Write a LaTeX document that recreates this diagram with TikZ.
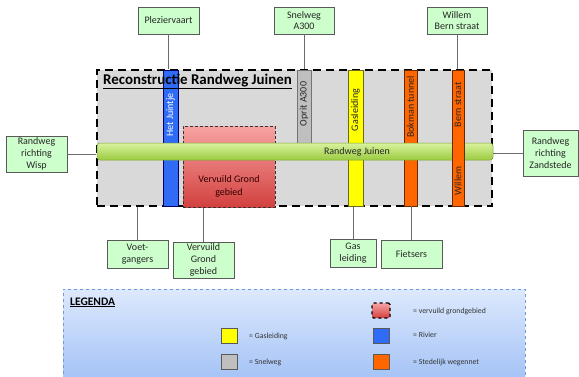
\documentclass[tikz,border=0pt]{standalone}
\usepackage{fontspec}
\setmainfont{Carlito}
\definecolor{nodefill}{HTML}{CCFFCC}
\definecolor{nodeborder}{HTML}{595959}
\definecolor{boxgrey}{HTML}{D9D9D9}
\definecolor{riverblue}{HTML}{2F6BF5}
\definecolor{roadorange}{HTML}{FF6600}
\definecolor{gasyellow}{HTML}{FFFF00}
\definecolor{hwgrey}{HTML}{BFBFBF}
\definecolor{redtop}{HTML}{F7A3A3}
\definecolor{redbot}{HTML}{D2413F}
\definecolor{greentop}{HTML}{D9F39E}
\definecolor{greenbot}{HTML}{9BCB3F}
\definecolor{legtop}{HTML}{DDE9FD}
\definecolor{legbot}{HTML}{A3C2F6}
\definecolor{legborder}{HTML}{6F9AD6}
\definecolor{conngrey}{HTML}{6B6B6B}
\begin{document}
\begin{tikzpicture}[x=1pt,y=-1pt,
  lbl/.style={draw=nodeborder, fill=nodefill, line width=0.9pt, align=center,
    font=\fontsize{10}{11.8}\selectfont, inner sep=0.5pt, text=black!85},
  barbox/.style={draw=#1, line width=0.7pt, inner sep=0pt},
  bartxt/.style={rotate=90, font=\fontsize{10}{11}\selectfont, inner sep=0pt, text=black!85},
  conn/.style={draw=conngrey, line width=0.8pt},
  sw/.style={draw=nodeborder, line width=0.8pt, minimum width=16pt, minimum height=15pt, inner sep=0pt},
  legtxt/.style={anchor=west, font=\fontsize{7.8}{9}\selectfont, text=black!80, inner sep=0pt}
]
\useasboundingbox (0,0) rectangle (579,376);
\clip (0,0) rectangle (579,376);

% legend
\node[draw=legborder, dashed, line width=0.8pt, top color=legtop, bottom color=legbot,
  minimum width=462pt, minimum height=92pt, inner sep=0pt] (leg) at (294,335) {};
\node[anchor=base west, font=\fontsize{11.5}{13}\bfseries\selectfont, inner sep=0pt] (legtitle) at (70,305) {\underline{LEGENDA}};
\node[sw, fill=gasyellow] (swy) at (229,335.5) {};
\node[sw, fill=hwgrey] (swg) at (229,362) {};
\node[sw, draw=black, dashed, line width=1.3pt, top color=redtop, bottom color=redbot, minimum width=18pt, rounded corners=1.5pt] (swr) at (381,310.5) {};
\node[sw, fill=riverblue] (swb) at (381,335.5) {};
\node[sw, fill=roadorange] (swo) at (381,362) {};
\node[legtxt] (ly) at (249,336) {= Gasleiding};
\node[legtxt] (lg) at (249,362) {= Snelweg};
\node[legtxt] (lr) at (413,311) {= vervuild grondgebied};
\node[legtxt] (lb) at (413,335) {= Rivier};
\node[legtxt] (lo) at (413,362) {= Stedelijk wegennet};

% main box
\node[draw=black, dash pattern=on 8pt off 5pt, line width=2.2pt, fill=boxgrey,
  minimum width=395pt, minimum height=136pt, inner sep=0pt] (box) at (294.5,138) {};

% bars behind the road
\node[barbox=blue!40!black, fill=riverblue, minimum width=15pt, minimum height=136pt] (juin) at (170.5,138) {};
\node[barbox=black!55, fill=hwgrey, minimum width=14pt, minimum height=74pt] (oprit) at (304,107) {};
\node[barbox=olive!70!black, fill=gasyellow, minimum width=15pt, minimum height=136pt] (gasb) at (355.5,138) {};
\node[barbox=roadorange!40!black, fill=roadorange, minimum width=13pt, minimum height=136pt] (bokb) at (410.5,138) {};
\node[draw=black!80, dash pattern=on 3pt off 2pt, line width=1pt, top color=redtop, bottom color=redbot,
  minimum width=92pt, minimum height=81pt, inner sep=0pt] (red) at (229,166.5) {};

\node[anchor=base west, font=\fontsize{14.9}{16}\bfseries\selectfont, inner sep=0pt] (title) at (103,84) {\underline{Reconstructie Randweg Juinen}};

\node[bartxt, text=white] (juintxt) at (170.5,115) {Het Juintje};
\node[bartxt] (oprittxt) at (304,104) {Oprit A300};
\node[bartxt] (gastxt) at (355.5,110) {Gasleiding};
\node[bartxt] (boktxt) at (410.5,107) {Bokman tunnel};
\node[align=center, font=\fontsize{10}{13}\selectfont, text=black!80!red, inner sep=0pt] (redtxt) at (229,186) {Vervuild Grond\\gebied};

% road
\node[draw=greenbot!80!black, line width=0.5pt, top color=greentop, bottom color=greenbot, rounded corners=3pt,
  minimum width=396pt, minimum height=17pt, inner sep=0pt] (road) at (295,151.5) {};
\node[font=\fontsize{10}{11}\selectfont, inner sep=0pt, text=black!85] (roadtxt) at (357,152) {Randweg Juinen};

% bar in front of the road
\node[barbox=roadorange!40!black, fill=roadorange, minimum width=12pt, minimum height=136pt] (bernb) at (458,138) {};
\node[bartxt] (berntxt) at (458,105) {Bern straat};
\node[bartxt] (willemtxt) at (458,181) {Willem};

% labels
\node[lbl, minimum width=61pt, minimum height=27pt] (plez) at (168.5,20.5) {Pleziervaart};
\node[lbl, minimum width=60pt, minimum height=27pt] (snel) at (304,20.5) {Snelweg\\A300};
\node[lbl, minimum width=60pt, minimum height=27pt] (wil) at (457,20.5) {Willem\\Bern straat};
\node[lbl, minimum width=61pt, minimum height=36pt] (wisp) at (36.5,154) {Randweg\\richting\\Wisp};
\node[lbl, minimum width=55pt, minimum height=46pt] (zand) at (550.5,153) {Randweg\\richting\\Zandstede};
\node[lbl, minimum width=61pt, minimum height=28pt] (voet) at (137.5,254) {Voet-\\gangers};
\node[lbl, minimum width=61pt, minimum height=36pt] (vgg) at (203.5,260) {Vervuild\\Grond\\gebied};
\node[lbl, minimum width=46pt, minimum height=28pt] (gasn) at (353,253) {Gas\\leiding};
\node[lbl, minimum width=61pt, minimum height=28pt] (fiets) at (411.5,254) {Fietsers};

% connectors
\draw[conn] (plez.south) -- (plez.south |- box.north);
\draw[conn] (snel.south) -- (snel.south |- box.north);
\draw[conn] (wil.south) -- (wil.south |- box.north);
\draw[conn] (wisp.east) -- (wisp.east -| box.west);
\draw[conn] (zand.west) -- (zand.west -| road.east);
\draw[conn] (voet.north) -- (voet.north |- box.south);
\draw[conn] (vgg.north) -- (vgg.north |- red.south);
\draw[conn] (gasn.north) -- (gasn.north |- gasb.south);
\draw[conn] (fiets.north) -- (fiets.north |- bokb.south);
\end{tikzpicture}
\end{document}
